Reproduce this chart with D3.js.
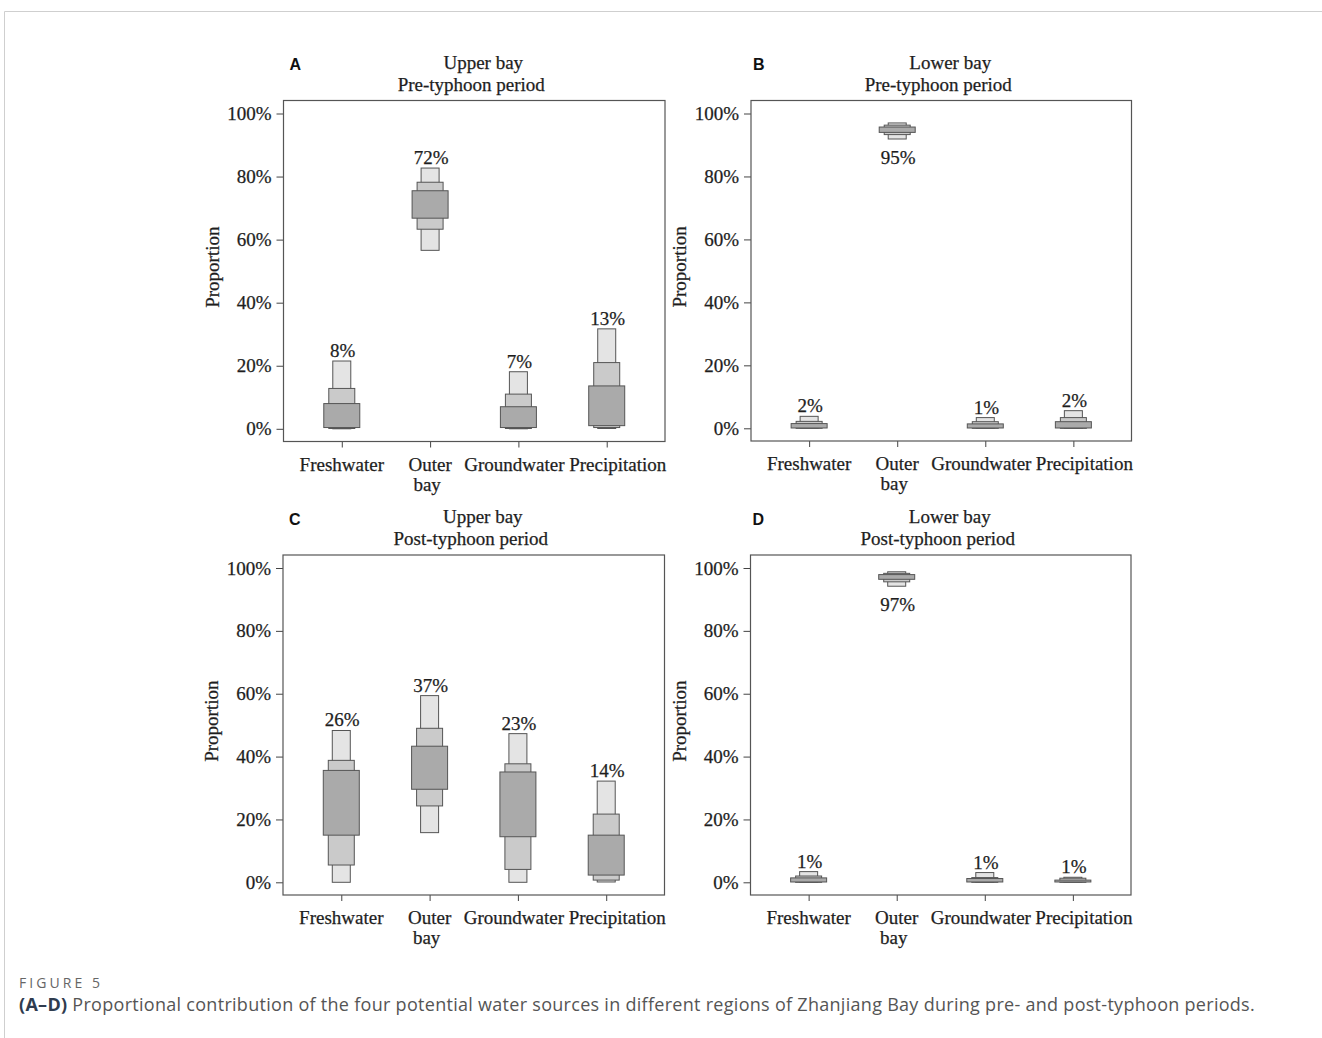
<!DOCTYPE html>
<html>
<head>
<meta charset="utf-8">
<script src="https://cdn.jsdelivr.net/npm/d3@7"></script>
<style>
  html, body { margin: 0; padding: 0; background: #fff; }
  svg { display: block; }
</style>
</head>
<body>
<svg id="fig" width="1322" height="1038"></svg>
<script>
// Water sources (x categories)
const categories = ["Freshwater", "Outer bay", "Groundwater", "Precipitation"];
const yTicks = [0, 0.2, 0.4, 0.6, 0.8, 1.0];

// Letter-value boxes per source, as proportions (%):
// [outer lo, middle lo, inner lo, inner hi, middle hi, outer hi]
const upperPre = [
  [0.0, 0.1, 0.4, 8.0, 12.8, 21.5],
  [56.6, 63.3, 66.8, 75.5, 78.2, 82.7],
  [0.0, 0.1, 0.4, 7.0, 11.0, 18.1],
  [0.1, 0.4, 1.0, 13.6, 21.0, 31.7]
];
const lowerPre = [
  [0.0, 0.0, 0.1, 1.5, 2.2, 3.8],
  [91.9, 93.3, 94.0, 95.7, 96.3, 97.0],
  [0.0, 0.0, 0.1, 1.4, 2.1, 3.4],
  [0.0, 0.0, 0.1, 2.1, 3.4, 5.6]
];
const upperPost = [
  [0.0, 5.5, 15.0, 35.6, 38.8, 48.3],
  [15.8, 24.3, 29.6, 43.3, 49.0, 59.4],
  [0.0, 4.1, 14.5, 35.1, 37.7, 47.3],
  [0.1, 0.7, 2.3, 15.0, 21.7, 32.2]
];
const lowerPost = [
  [0.0, 0.0, 0.1, 1.4, 2.0, 3.4],
  [94.2, 95.6, 96.4, 97.9, 98.3, 98.8],
  [0.0, 0.0, 0.1, 1.2, 1.5, 3.1],
  [0.0, 0.0, 0.1, 0.7, 1.3, 1.6]
];

// Mean contribution labels (%)
const upperPreMeans = [8, 72, 7, 13];
const lowerPreMeans = [2, 95, 1, 2];
const upperPostMeans = [26, 37, 23, 14];
const lowerPostMeans = [1, 97, 1, 1];

const panelLetters = ["A", "B", "C", "D"];
const regionTitles = ["Upper bay", "Lower bay", "Upper bay", "Lower bay"];
const periodTitles = ["Pre-typhoon period", "Pre-typhoon period", "Post-typhoon period", "Post-typhoon period"];

const panelData = [upperPre, lowerPre, upperPost, lowerPost];
const panelMeans = [upperPreMeans, lowerPreMeans, upperPostMeans, lowerPostMeans];

const serif = "'Liberation Serif', 'Times New Roman', serif";
const sans = "'Liberation Sans', Arial, sans-serif";
const FS = 19;
const ink = "#1e1e1e";

// horizontal nudge of the category names so the long ones don't collide
const labelShift = { "Freshwater": 0, "Outer bay": 0, "Groundwater": -4, "Precipitation": 11 };

const svg = d3.select("#fig");

// page frame
svg.append("path")
  .attr("d", "M4.5,1038 V11.5 H1322")
  .attr("fill", "none").attr("stroke", "#cfcfcf").attr("stroke-width", 1);

// panel frames: [left, top, right, bottom]
const frames = [
  [283.5, 100.5, 665, 441.5],
  [751, 100.5, 1131.5, 441],
  [283, 555, 664.5, 895],
  [750.5, 555, 1131, 895]
];

const levels = [
  { lo: 0, hi: 5, width: 18, fill: "#e4e4e4" },
  { lo: 1, hi: 4, width: 26, fill: "#cacaca" },
  { lo: 2, hi: 3, width: 36, fill: "#aaaaaa" }
];

function label(g, x, y, txt, anchor) {
  return g.append("text")
    .attr("x", x).attr("y", y)
    .attr("text-anchor", anchor || "middle")
    .attr("font-family", serif).attr("font-size", FS).attr("fill", ink)
    .attr("stroke", ink).attr("stroke-width", 0.25)
    .text(txt);
}

frames.forEach((f, p) => {
  const [x0, y0, x1, y1] = f;
  const g = svg.append("g");

  const x = d3.scalePoint().domain(categories).range([x0, x1]).padding(0.66);
  const y = d3.scaleLinear().domain([0, 1]).range([y1 - 12.7, y0 + 13]);

  // y axis
  const yAxis = g.append("g")
    .attr("transform", `translate(${x0},0)`)
    .call(d3.axisLeft(y).tickValues(yTicks).tickFormat(d3.format(".0%")).tickSize(7).tickPadding(5));
  yAxis.select(".domain").remove();
  yAxis.selectAll("line").attr("stroke", "#444");
  yAxis.selectAll("text").attr("font-family", serif).attr("font-size", FS).attr("fill", ink)
    .attr("stroke", ink).attr("stroke-width", 0.25);

  // x axis
  const xAxis = g.append("g")
    .attr("transform", `translate(0,${y1})`)
    .call(d3.axisBottom(x).tickSize(6).tickFormat(""));
  xAxis.select(".domain").remove();
  xAxis.selectAll("line").attr("stroke", "#444");

  categories.forEach(c => {
    const words = c === "Outer bay" ? ["Outer", "bay"] : [c];
    words.forEach((w, i) => {
      label(g, x(c) + labelShift[c] - (i ? 3 : 0), y1 + 29 + i * 20, w);
    });
  });

  // letter-value boxes
  const data = panelData[p];
  categories.forEach((c, i) => {
    const v = data[i];
    levels.forEach(L => {
      const top = y(v[L.hi] / 100), bot = y(v[L.lo] / 100);
      g.append("rect")
        .attr("x", x(c) - L.width / 2)
        .attr("y", top)
        .attr("width", L.width)
        .attr("height", Math.max(bot - top, 0.8))
        .attr("fill", L.fill)
        .attr("stroke", "#555")
        .attr("stroke-width", 1);
    });
    const m = panelMeans[p][i];
    const below = m > 90;
    label(g, x(c) + 1, below ? y(v[0] / 100) + 25 : y(v[5] / 100) - 4, m + "%");
  });

  // plot frame
  g.append("rect")
    .attr("x", x0).attr("y", y0)
    .attr("width", x1 - x0).attr("height", y1 - y0)
    .attr("fill", "none").attr("stroke", "#555").attr("stroke-width", 1.2);

  // y title
  const cy = (y(0) + y(1)) / 2;
  g.append("text")
    .attr("transform", `translate(${x0 - 65},${cy - 4}) rotate(-90)`)
    .attr("text-anchor", "middle")
    .attr("font-family", serif).attr("font-size", FS).attr("fill", ink)
    .attr("stroke", ink).attr("stroke-width", 0.25)
    .text("Proportion");

  // titles
  const cx = (x0 + x1) / 2;
  label(g, cx + 9, y0 - 32, regionTitles[p]);
  label(g, cx - 3, y0 - 10, periodTitles[p]);

  // panel letter
  g.append("text")
    .attr("x", x0 + (p % 2 === 0 ? 6 : 2)).attr("y", y0 - 30.5)
    .attr("font-family", sans).attr("font-weight", "bold").attr("font-size", 16).attr("fill", "#111")
    .text(panelLetters[p]);
});

// caption
const figLabel = svg.append("text")
  .attr("x", 19).attr("y", 988)
  .attr("font-family", "'Open Sans', sans-serif").attr("font-size", 14).attr("fill", "#666")
  .text("FIGURE 5");
const flw = figLabel.node().getComputedTextLength();
figLabel.attr("letter-spacing", Math.max(0, (84 - flw) / 8));

const cap = svg.append("text")
  .attr("x", 19).attr("y", 1011)
  .attr("font-family", "'Open Sans', sans-serif").attr("font-size", 18).attr("fill", "#555");
cap.append("tspan").attr("font-weight", "bold").attr("fill", "#2f3c4f").text("(A\u2013D)");
cap.append("tspan").text(" Proportional contribution of the four potential water sources in different regions of Zhanjiang Bay during pre- and post-typhoon periods.");
const cw = cap.node().getComputedTextLength();
const nChars = cap.text().length;
cap.attr("letter-spacing", (1236 - cw) / nChars);
</script>
</body>
</html>
